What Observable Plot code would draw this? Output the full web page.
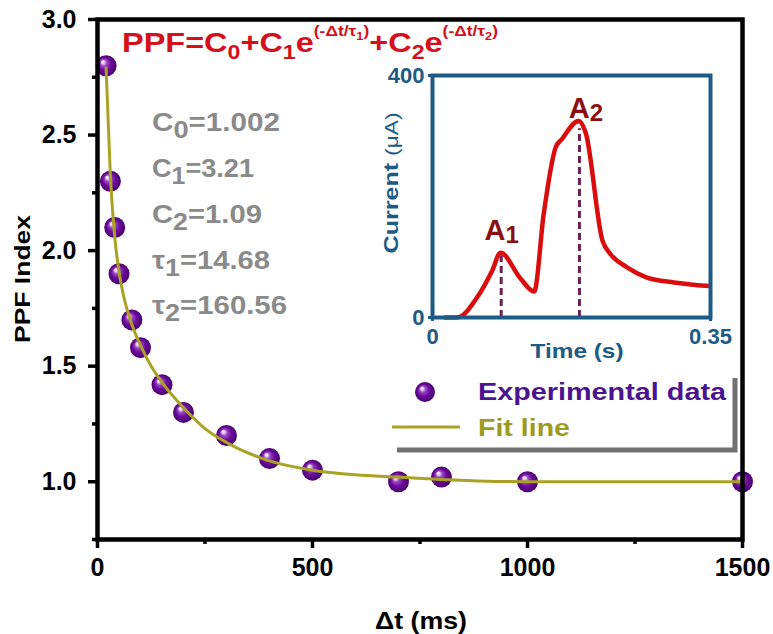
<!DOCTYPE html>
<html><head><meta charset="utf-8">
<script src="https://cdn.jsdelivr.net/npm/d3@7"></script>
<script src="https://cdn.jsdelivr.net/npm/@observablehq/plot@0.6"></script>
<style>
body{margin:0;background:#fff;}
#wrap{position:relative;width:773px;height:634px;font-family:"Liberation Sans",Arial,sans-serif;}
#wrap svg{position:absolute;overflow:visible;}
</style></head><body><div id="wrap"></div>
<script>
// ---- main chart data ----
const deltaT = [20,30,40,50,80,100,150,200,300,400,500,700,800,1000,1500];
const ppf    = [2.80,2.30,2.10,1.90,1.70,1.58,1.42,1.30,1.20,1.10,1.05,1.00,1.02,1.00,1.00];
const fitT   = [20,30,40,50,60,80,100,125,150,200,250,300,400,500,600,700,800,1000,1200,1500];
const fitPPF = [2.79,2.32,2.06,1.91,1.81,1.68,1.59,1.50,1.43,1.32,1.23,1.17,1.09,1.05,1.03,1.02,1.01,1.00,1.00,1.00];
const xTicks = [0,500,1000,1500];
const xMinor = [250,750,1250];
const yTicks = [1.0,1.5,2.0,2.5,3.0];
const yMinor = [0.75,1.25,1.75,2.25,2.75];
const paramSym = ["C","C","C","τ","τ"];
const paramSub = ["0","1","2","1","2"];
const paramVal = ["=1.002","=3.21","=1.09","=14.68","=160.56"];
// ---- inset data ----
const insetTime    = [0.016,0.031,0.056,0.075,0.0857,0.111,0.128,0.140,0.155,0.163,0.184,0.193,0.214,0.224,0.245,0.270,0.304,0.348];
const insetCurrent = [0,0,33,77,107,64,43,171,281,295,325,305,127,105,83,66,58,52];
const peakName = ["A","A"];
const peakSub  = ["1","2"];
const peakTime = [0.0865,0.185];
const peakCurrent = [102,312];
const insetXTicks = [0,0.35];
const insetYTicks = [0,400];

const FONT = '"Liberation Sans",Arial,sans-serif';
const wrap = document.getElementById("wrap");

const pts = deltaT.map((t,i)=>({t, v:ppf[i]}));
const fit = fitT.map((t,i)=>({t, v:fitPPF[i]}));

const main = Plot.plot({
  width:773, height:634,
  marginLeft:97, marginRight:31, marginTop:19, marginBottom:95,
  style:{fontFamily:FONT, fontWeight:"bold", fontSize:"25px", color:"#000", background:"transparent"},
  x:{domain:[0,1500]},
  y:{domain:[0.75,3.0]},
  marks:[
    Plot.axisX({ticks:xTicks, tickSize:9, strokeWidth:3.5, tickPadding:10, tickFormat:d3.format("d"), label:null, fontSize:25}),
    Plot.axisX({ticks:xMinor, tickSize:5, strokeWidth:3.5, tickFormat:()=>"", label:null}),
    Plot.axisY({ticks:yTicks, tickSize:9, strokeWidth:3.5, tickPadding:12, tickFormat:d3.format(".1f"), label:null, fontSize:25}),
    Plot.axisY({ticks:yMinor, tickSize:5, strokeWidth:3.5, tickFormat:()=>"", label:null}),
    Plot.dot(pts, {x:"t", y:"v", r:10.5, fill:"url(#sphere)", stroke:null}),
    Plot.line(fit, {x:"t", y:"v", stroke:"#a9a224", strokeWidth:3, curve:"monotone-x"}),
    Plot.frame({stroke:"#000", strokeWidth:4.5})
  ]
});
wrap.appendChild(main);
const svg = d3.select(main);
const defs = svg.insert("defs",":first-child");
const g = defs.append("radialGradient").attr("id","sphere").attr("cx",0.5).attr("cy",0.5).attr("r",0.5).attr("fx",0.33).attr("fy",0.3);
[[0,"#ffffff"],[0.12,"#eed8f4"],[0.32,"#9a44c4"],[0.6,"#6c0c9a"],[1,"#4a0070"]].forEach(([o,c])=>g.append("stop").attr("offset",o).attr("stop-color",c));

// helper for rich text
function rich(parent, x, y, segs, attrs){
  const t = parent.append("text").attr("x",x).attr("y",y).attr("font-family",FONT).attr("font-weight","bold").attr("text-anchor","start");
  Object.entries(attrs||{}).forEach(([k,v])=>t.attr(k,v));
  let cur = 0;
  segs.forEach(s=>{
    const off = s.off||0;
    const ts = t.append("tspan").text(s.t).attr("dy", off-cur);
    if (s.size) ts.attr("font-size", s.size);
    cur = off;
  });
  return t;
}
function label(parent, x, y, txt, size, fill, len, anchor){
  const t = parent.append("text").attr("x",x).attr("y",y).attr("font-family",FONT).attr("font-weight","bold")
    .attr("font-size",size).attr("fill",fill).attr("text-anchor",anchor||"start").text(txt);
  if (len) t.attr("textLength",len).attr("lengthAdjust","spacingAndGlyphs");
  return t;
}

// axis labels
svg.append("text").attr("transform","translate(30,279) rotate(-90)").attr("text-anchor","middle")
  .attr("font-family",FONT).attr("font-weight","bold").attr("font-size",22)
  .attr("textLength",128).attr("lengthAdjust","spacingAndGlyphs").text("PPF Index");
label(svg, 421, 629, "Δt (ms)", 23, "#000", 92, "middle");

// formula
rich(svg, 122, 52, [
  {t:"PPF=C"},{t:"0",size:20,off:7},{t:"+C"},{t:"1",size:20,off:7},{t:"e"},
  {t:"(-Δt/τ",size:15,off:-16},{t:"1",size:11,off:-12},{t:")",size:15,off:-16},
  {t:"+C"},{t:"2",size:20,off:7},{t:"e"},
  {t:"(-Δt/τ",size:15,off:-16},{t:"2",size:11,off:-12},{t:")",size:15,off:-16}
], {fill:"#d3101c","font-size":28, textLength:376, lengthAdjust:"spacingAndGlyphs"});

// parameters
const baselines = [131,177,223,269,314];
const widths = [128,102,110,118,135];
paramSym.forEach((s,i)=>{
  rich(svg, 152, baselines[i], [{t:s},{t:paramSub[i],size:23,off:7},{t:paramVal[i]}],
    {fill:"#8a8a8a","font-size":25, textLength:widths[i], lengthAdjust:"spacingAndGlyphs"});
});

// legend
svg.append("path").attr("d","M397,450H735V378").attr("fill","none").attr("stroke","#717171").attr("stroke-width",5);
svg.append("circle").attr("cx",425).attr("cy",392).attr("r",10).attr("fill","url(#sphere)");
label(svg, 478, 400, "Experimental data", 24, "#4b148e", 248);
svg.append("line").attr("x1",392).attr("x2",460).attr("y1",427).attr("y2",427).attr("stroke","#a9a224").attr("stroke-width",3);
label(svg, 478, 436, "Fit line", 24, "#9e9a1e", 92);

// ---- inset ----
const BLUE = "#1d5a84";
const curve = insetTime.map((t,i)=>({t, c:insetCurrent[i]}));
const peaks = peakTime.map((t,i)=>({t, c:peakCurrent[i]}));
const inset = Plot.plot({
  width:360, height:310,
  marginLeft:62, marginRight:20, marginTop:15, marginBottom:53,
  style:{fontFamily:FONT, fontWeight:"bold", fontSize:"22px", color:BLUE, background:"transparent"},
  x:{domain:[0,0.35]},
  y:{domain:[0,400]},
  marks:[
    Plot.axisX({ticks:insetXTicks, tickSize:4, strokeWidth:3, tickPadding:7, tickFormat:d=>d===0?"0":String(d), label:null, fill:BLUE, stroke:BLUE, fontSize:22}),
    Plot.axisY({ticks:insetYTicks, tickSize:4, strokeWidth:3, tickPadding:4, tickFormat:d3.format("d"), label:null, fill:BLUE, stroke:BLUE, fontSize:22}),
    Plot.ruleX(peaks, {x:"t", y1:0, y2:"c", stroke:"#6e1f55", strokeWidth:3, strokeDasharray:"7,4"}),
    Plot.line(curve, {x:"t", y:"c", stroke:"#d90d0d", strokeWidth:4.5, curve:"monotone-x"}),
    Plot.frame({stroke:BLUE, strokeWidth:4})
  ]
});
inset.style.left = "370px";
inset.style.top = "60px";
wrap.appendChild(inset);
const isvg = d3.select(inset);
const sx = inset.scale("x"), sy = inset.scale("y");
label(isvg, 207, 298, "Time (s)", 21, BLUE, 93, "middle");
const cl = isvg.append("text").attr("transform","translate(28,123) rotate(-90)").attr("text-anchor","middle")
  .attr("font-family",FONT).attr("font-weight","bold").attr("font-size",21).attr("fill",BLUE)
  .attr("textLength",141).attr("lengthAdjust","spacingAndGlyphs");
cl.append("tspan").text("Current ");
cl.append("tspan").attr("font-weight","normal").attr("font-size",19).text("(μA)");
peakName.forEach((n,i)=>{
  const px = sx.apply(peakTime[i]) + (i===0?1:7);
  const py = sy.apply(peakCurrent[i]) - (i===0?15:10);
  rich(isvg, px, py, [{t:n},{t:peakSub[i],size:24,off:3}], {fill:"#8a1010","font-size":29,"text-anchor":"middle"});
});
</script></body></html>
